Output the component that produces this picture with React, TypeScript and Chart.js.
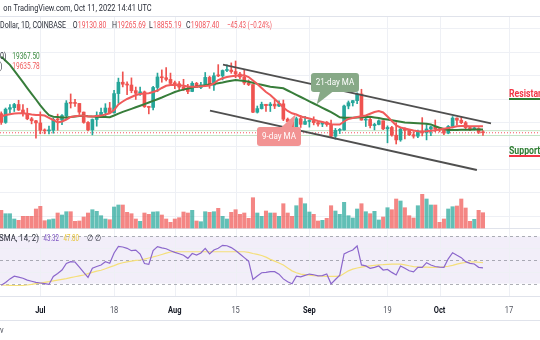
import React, { useEffect, useRef } from "react";
import { Chart, registerables } from "chart.js";
Chart.register(...registerables);

// Days are counted from Jul 1, 2022 (= 0). First candle: Jun 22, 2022.
const FIRST_DAY = -9;

const opens = [
  20720, 19970, 21100, 21230, 21500, 21030, 20730, 20280, 20110,
  19930, 19300, 19250, 19300, 20220, 20180, 20550, 21620, 21600, 21590, 20850, 19970, 19330, 20220, 20580, 20830, 21200, 20790, 22430, 23400, 23230, 23160, 22680, 22460, 22580, 21310, 21250, 22950, 23850, 23780, 23640,
  23300, 23270, 22980, 22820, 22610, 23310, 22950, 23170, 23810, 23150, 23950, 23940, 24400, 24440, 24310, 24100, 23850, 23340, 23200, 20840, 21150, 21520, 21400, 21530, 21370, 21560, 20250, 20040, 19560, 20290, 19810,
  20050, 20130, 19950, 19830, 19990, 19800, 18790, 19290, 19320, 21370, 21650, 21830, 22400, 20170, 20230, 19700, 19800, 20110, 19420, 19540, 18880, 18480, 19400, 19290, 18920, 18800, 19220, 19080, 19410, 19590,
  19420, 19310, 19060, 19630, 20340, 20160, 19950, 19530, 19420, 19450, 19130.8,
];
const highs = [
  20870, 21200, 21500, 21600, 21860, 21500, 21180, 20400, 20140,
  20870, 19420, 19650, 20330, 20680, 20640, 21830, 22400, 21950, 21600, 20860, 20040, 20270, 20870, 21200, 21570, 21680, 22700, 23750, 24280, 23430, 23770, 22990, 22990, 22650, 21350, 23060, 24180, 24450, 24650, 24180,
  23500, 23460, 23650, 23230, 23450, 23390, 23400, 24230, 23920, 24200, 24900, 24450, 24880, 25050, 25210, 24240, 24450, 23590, 23200, 21370, 21700, 21520, 21670, 21900, 21820, 21880, 20350, 20170, 20430, 20570, 20490,
  20200, 20450, 19980, 20000, 20050, 20180, 19460, 19450, 21450, 21800, 21850, 22490, 22800, 20550, 20340, 19900, 20190, 20110, 19680, 19640, 19950, 19490, 19500, 19310, 19180, 19310, 20380, 19790, 19650, 20180,
  19480, 19390, 19710, 20470, 20360, 20440, 20060, 19610, 19550, 19520, 19265.69,
];
const lows = [
  19800, 19890, 20750, 20900, 20980, 20500, 20200, 19850, 18620,
  19000, 19000, 18980, 19050, 19300, 19770, 20250, 21200, 21330, 20650, 19900, 19240, 18910, 19650, 20400, 20480, 20770, 20770, 21600, 23000, 22340, 22500, 21930, 22280, 21250, 20700, 21040, 22590, 23400, 23520, 23230,
  22850, 22660, 22700, 22430, 22590, 22940, 22850, 23150, 22880, 22700, 23870, 23600, 24310, 24160, 23780, 23700, 23200, 23110, 20800, 20770, 21110, 20900, 20900, 21150, 21310, 20120, 19820, 19550, 19550, 19540, 19800,
  19570, 19760, 19650, 19610, 19640, 18680, 18540, 19020, 19300, 21130, 21370, 21560, 20160, 19620, 19500, 19330, 19760, 19360, 18230, 18800, 18130, 18360, 18570, 18850, 18630, 18680, 18820, 18480, 18850, 19170,
  19160, 18920, 19000, 19500, 19750, 19860, 19330, 19260, 19320, 19020, 18855.19,
];
const closes = [
  19970, 21100, 21230, 21500, 21030, 20730, 20280, 20110, 19930,
  19300, 19250, 19300, 20220, 20180, 20550, 21620, 21600, 21590, 20850, 19970, 19330, 20220, 20580, 20830, 21200, 20790, 22430, 23400, 23230, 23160, 22680, 22460, 22580, 21310, 21250, 22950, 23850, 23780, 23640, 23300,
  23270, 22980, 22820, 22610, 23310, 22950, 23170, 23810, 23150, 23950, 23940, 24400, 24440, 24310, 24100, 23850, 23340, 23200, 20840, 21150, 21520, 21400, 21530, 21370, 21560, 20250, 20040, 19560, 20290, 19810, 20050,
  20130, 19950, 19830, 19990, 19800, 18790, 19290, 19320, 21370, 21650, 21830, 22400, 20170, 20230, 19700, 19800, 20110, 19420, 19540, 18880, 18480, 19400, 19290, 18920, 18800, 19220, 19080, 19410, 19590, 19420,
  19310, 19060, 19630, 20340, 20160, 19950, 19530, 19420, 19450, 19132.83, 19087.4,
];
// volume (thousand units)
const volumes = [
  17.7, 14.3, 14.3, 9, 7.7, 11.7, 11.7, 11.7, 19,
  21.7, 7.3, 8.3, 9, 15, 13, 16.3, 16.3, 6.7, 7,
  11, 15, 18.3, 16.7, 12.3, 9, 8.3, 21, 23, 23,
  15.7, 14.3, 9, 6.7, 15, 13.7, 16, 16.3, 13, 9,
  5.7, 9, 10.3, 16, 15, 17.7, 7, 6.3, 16.3, 15.7,
  16.3, 19.7, 11.7, 9, 15.7, 18.3, 13.7, 15, 9.7, 30.3,
  15, 11.7, 17, 15, 15, 11.7, 24.3, 15, 11.7, 22.3,
  30, 24.3, 16, 13.7, 7, 7.7, 9.7, 22.3, 17, 13.7,
  25.7, 12.3, 10, 19, 24.3, 16.3, 14.3, 16.7, 8, 11,
  20.3, 18.3, 29, 27, 20.3, 12.3, 10, 22.3, 33.7, 29,
  23, 23, 5.7, 9, 19, 21.3, 22, 29, 20, 6.7,
  8.7, 17.7, 15.3,
];
// 9-day MA (red)
const ma9 = [
  20476, 20604, 20672, 20732, 20749, 20749, 20706, 20638, 20604,
  20604, 20561, 20365, 20177, 19964, 20049, 20220, 20433, 20501, 20544,
  20536, 20476, 20476, 20519, 20553, 20646, 20749, 21030, 21499, 21755,
  21969, 22139, 22310, 22395, 22438, 22455, 22566, 22694, 22907, 23095,
  23163, 23163, 23146, 23095, 23035, 23018, 23018, 23052, 23069, 23120,
  23291, 23589, 23734, 23845, 23905, 23948, 23973, 23999, 23845, 23547,
  23248, 22907, 22566, 22310, 21969, 21627, 21244, 20945, 20749, 20646,
  20476, 20391, 20305, 20194, 20092, 20007, 19896, 19811, 19793, 19793,
  20049, 20263, 20348, 20433, 20501, 20561, 20706, 20860, 20945, 20817,
  20476, 20092, 19708, 19538, 19452, 19367, 19282, 19222, 19196, 19222,
  19265, 19307, 19367, 19427, 19495, 19555, 19640, 19666, 19666, 19648,
  19640, 19636, 19635.78,
];
// 21-day MA (green)
const ma21 = [
  25585, 25236, 24877, 24391, 23896, 23402, 22898, 22404, 21926,
  21423, 20971, 20587, 20459, 20425, 20382, 20399, 20433, 20476, 20510,
  20544, 20501, 20467, 20450, 20442, 20425, 20408, 20561, 20723, 20868,
  20996, 21124, 21261, 21397, 21534, 21670, 21807, 21952, 22097, 22259,
  22412, 22566, 22685, 22770, 22864, 22950, 23035, 23086, 23137, 23197,
  23248, 23308, 23376, 23453, 23521, 23589, 23547, 23513, 23436, 23351,
  23257, 23180, 23095, 23018, 22975, 22924, 22881, 22694, 22515, 22327,
  22139, 21960, 21772, 21585, 21397, 21209, 21030, 20843, 20638, 20408,
  20374, 20374, 20374, 20391, 20408, 20433, 20459, 20399, 20339, 20271,
  20211, 20152, 20092, 20024, 19964, 19947, 19921, 19896, 19879, 19853,
  19802, 19648, 19521, 19410, 19324, 19324, 19333, 19341, 19350, 19350,
  19358, 19367, 19367.5,
];
const rsi = [
  28.5, 31, 34, 36.3, 35.5, 34.5, 33, 32, 31,
  30.5, 30, 29.3, 36, 38.5, 41.5, 47, 48.6, 48.3, 44,
  39.5, 35.3, 43, 44.5, 45.8, 48.5, 47.2, 56, 61.5, 61,
  59.9, 57.9, 58.4, 55, 47, 46.3, 58, 61.3, 60.3, 59.5,
  57.8, 56.5, 55.3, 54, 51.4, 55.5, 54.2, 56, 59.9, 55.1,
  58.5, 60, 62.4, 62.1, 60.5, 58, 55.1, 52, 49, 33.6,
  36.5, 39.2, 39.5, 40.1, 40.1, 38, 34, 31.5, 29.8, 36.3,
  35.7, 37, 38.1, 37.5, 36.5, 36.8, 38.1, 29.8, 33.5, 37.1,
  55.1, 57, 58.5, 61.9, 45.8, 45, 43, 43.8, 44.9, 41.5,
  42, 39.5, 37.3, 44.9, 43, 40.9, 40, 43.8, 43.8, 47.7,
  45.8, 44.5, 44, 43.8, 51, 56.2, 54, 52, 48.6, 47.2,
  46.6, 43.8, 43.32,
];
const rsiMa = [
  28.8, 28.6, 28.5, 28.4, 28.4, 28.5, 28.8, 29.3, 29.9,
  30.4, 31, 31.6, 32.3, 33, 33.6, 34.2, 35, 35.8, 36.6,
  37.3, 38.5, 39.5, 40.5, 41.3, 42.6, 44, 45.2, 46.7, 47.7,
  48.4, 49, 49.6, 50, 50.8, 51.7, 52.6, 53.6, 54.7, 55.8,
  56.8, 57, 57, 57, 57, 57, 57, 57, 57, 57,
  57, 57, 57, 57, 57, 57, 57, 57, 56.5, 55.5,
  54.8, 53.8, 52.4, 50.5, 49, 47.5, 45.8, 43.2, 40.8, 39.2,
  38.1, 37.6, 37.2, 36.8, 36.5, 36.3, 36.2, 36.2, 36.2, 36.3,
  38.5, 40.8, 42.3, 43.2, 44, 44.6, 45.1, 45.5, 45.8, 46,
  46.3, 46.5, 46.6, 46.5, 45.9, 45.1, 44.4, 44.1, 44, 43.9,
  43.8, 43.8, 43.9, 44.2, 44.7, 45.5, 46.5, 47.3, 47.9, 48.3,
  48.4, 48.1, 47.8,
];

const tickDays = [0, 17, 31, 45, 62, 80, 92, 108];
const tickLabels = ["Jul", "18", "Aug", "15", "Sep", "19", "Oct", "17"];
const tickBold = [true, false, true, false, true, false, true, false];
const priceGrid = [28000, 26000, 24000, 22000, 20000, 18000, 16000, 14000, 12000];
const rsiGrid = [60, 40];
const rsiLevels = [70, 50, 30];
const upperChannel = [{ x: 42.1, y: 24911 }, { x: 103.85, y: 19896 }];
const lowerChannel = [{ x: 39.1, y: 20971 }, { x: 100.6, y: 15912 }];
const ma21Note = { d: 67.9, p: 23376, tipD: 63.7, tipP: 21516, text: "21-day MA" };
const ma9Note = { d: 55, p: 18778, tipD: 58.9, tipP: 20689, text: "9-day MA" };
const resistance = { d: 108, p: 22395, lineP: 21969, text: "Resistance" };
const support = { d: 108, p: 17533, lineP: 17107, text: "Support" };

const days = opens.map((_, i) => FIRST_DAY + i);
const last = opens.length - 1;

const X_MIN = -9.286, X_MAX = 115.14;
const PRICE_MIN = 1411.3, PRICE_MAX = 30413.3;
const VOL_MIN = -112, VOL_MAX = 228;
const RSI_MIN = -17.8, RSI_MAX = 270.34;

const PANE_TOP = 16.5, PRICE_BOTTOM = 228.5, RSI_BOTTOM = 296.5, AXIS_BOTTOM = 320.5;
const FONT = "Roboto, 'Liberation Sans', sans-serif";
const SX = 0.83;
const UP = "#26a69a", DOWN = "#ef5350";
const TXT_RED = "#f0555c", TXT_DARK = "#2a2e39";

function txt(ctx: CanvasRenderingContext2D, s: string, x: number, y: number, font: string, color: string, align = "left", sx = SX) {
  ctx.save();
  ctx.font = font;
  ctx.fillStyle = color;
  ctx.textBaseline = "middle";
  const w = ctx.measureText(s).width * sx;
  let x0 = x;
  if (align === "center") x0 = x - w / 2;
  else if (align === "right") x0 = x - w;
  ctx.translate(x0, y);
  ctx.scale(sx, 1);
  ctx.fillText(s, 0, 0);
  ctx.restore();
  return w;
}
function fitTxt(ctx: CanvasRenderingContext2D, s: string, x: number, y: number, font: string, color: string, width: number) {
  ctx.save();
  ctx.font = font;
  const w = ctx.measureText(s).width;
  ctx.restore();
  return txt(ctx, s, x, y, font, color, "left", width / w);
}

function callout(ctx: CanvasRenderingContext2D, cx: number, cy: number, w: number, h: number, base: number[][], tip: number[], color: string, text: string) {
  ctx.save();
  ctx.fillStyle = color;
  ctx.beginPath();
  (ctx as any).roundRect(cx - w / 2, cy - h / 2, w, h, 3);
  ctx.fill();
  ctx.beginPath();
  ctx.moveTo(base[0][0], base[0][1]);
  ctx.lineTo(tip[0], tip[1]);
  ctx.lineTo(base[1][0], base[1][1]);
  ctx.closePath();
  ctx.fill();
  ctx.restore();
  txt(ctx, text, cx, cy + 0.5, `9.5px ${FONT}`, "#ffffff", "center", 0.85);
}

const overlay = {
  id: "overlay",
  beforeDatasetsDraw(chart: any) {
    const { ctx } = chart;
    const W = chart.width;
    const xs = chart.scales.x, ys = chart.scales.y, yr = chart.scales.yRsi;
    ctx.save();
    const y70 = yr.getPixelForValue(70), y30 = yr.getPixelForValue(30);
    ctx.fillStyle = "rgba(126,87,194,0.1)";
    ctx.fillRect(0, y70, W, y30 - y70);
    ctx.lineWidth = 1;
    ctx.strokeStyle = "#eef0f5";
    const hline = (y: number) => { ctx.beginPath(); ctx.moveTo(0, y); ctx.lineTo(W, y); ctx.stroke(); };
    priceGrid.forEach((p) => {
      const y = Math.round(ys.getPixelForValue(p)) + 0.5;
      if (y > PANE_TOP && y < PRICE_BOTTOM) hline(y);
    });
    rsiGrid.forEach((r) => hline(Math.round(yr.getPixelForValue(r)) + 0.5));
    tickDays.forEach((d) => {
      const x = Math.round(xs.getPixelForValue(d)) + 0.5;
      ctx.beginPath(); ctx.moveTo(x, PANE_TOP); ctx.lineTo(x, RSI_BOTTOM); ctx.stroke();
    });
    ctx.setLineDash([3, 3]);
    ctx.strokeStyle = "rgba(120,123,134,0.6)";
    rsiLevels.forEach((r) => hline(Math.round(yr.getPixelForValue(r)) + 0.5));
    ctx.setLineDash([]);
    ctx.strokeStyle = "#e0e3eb";
    [PANE_TOP, PRICE_BOTTOM, RSI_BOTTOM, AXIS_BOTTOM].forEach(hline);
    ctx.restore();
  },
  afterDatasetsDraw(chart: any) {
    const { ctx } = chart;
    const xs = chart.scales.x, ys = chart.scales.y;
    const px = (d: number) => xs.getPixelForValue(d);
    const py = (p: number) => ys.getPixelForValue(p);

    // callouts
    {
      const cx = px(ma21Note.d), cy = py(ma21Note.p);
      callout(ctx, cx, cy, 48, 19, [[cx - 15, cy + 9], [cx - 2, cy + 9]], [px(ma21Note.tipD), py(ma21Note.tipP)], "#87a987", ma21Note.text);
    }
    {
      const cx = px(ma9Note.d), cy = py(ma9Note.p);
      callout(ctx, cx, cy, 44, 19, [[cx + 2, cy - 9], [cx + 13, cy - 9]], [px(ma9Note.tipD), py(ma9Note.tipP)], "#f29393", ma9Note.text);
    }

    // Resistance / Support
    ctx.save();
    const rx = px(resistance.d);
    txt(ctx, resistance.text, rx, py(resistance.p), `bold 10px ${FONT}`, "#f23645", "left", 0.87);
    ctx.strokeStyle = "#2e7d32"; ctx.lineWidth = 2;
    ctx.beginPath(); ctx.moveTo(rx, py(resistance.lineP)); ctx.lineTo(chart.width, py(resistance.lineP)); ctx.stroke();
    txt(ctx, support.text, rx, py(support.p), `bold 10px ${FONT}`, "#2e7d32", "left", 0.87);
    ctx.strokeStyle = "#f23645";
    ctx.beginPath(); ctx.moveTo(rx, py(support.lineP)); ctx.lineTo(chart.width, py(support.lineP)); ctx.stroke();
    ctx.restore();

    // header
    ctx.save();
    ctx.fillStyle = "#ffffff";
    ctx.fillRect(0, 0, chart.width, PANE_TOP - 0.5);
    ctx.restore();
    const f9 = `9px ${FONT}`;
    fitTxt(ctx, "on TradingView.com, Oct 11, 2022 14:41 UTC", 3.3, 9, f9, TXT_DARK, 148.4);
    const y2 = 25.5;
    fitTxt(ctx, "Dollar, 1D, COINBASE", 0, y2, f9, TXT_DARK, 66);
    const fields: [string, number, number][] = [["O", opens[last], 72.7], ["H", highs[last], 112], ["L", lows[last], 149], ["C", closes[last], 186]];
    fields.forEach(([k, v, x]) => {
      const w = txt(ctx, k, x, y2, f9, TXT_DARK, "left", 0.78);
      fitTxt(ctx, v.toFixed(2), x + w + 0.3, y2, f9, TXT_RED, 28.5);
    });
    const chg = closes[last] - closes[last - 1];
    const pct = (chg / closes[last - 1]) * 100;
    fitTxt(ctx, `\u2212${Math.abs(chg).toFixed(2)} (\u2212${Math.abs(pct).toFixed(2)}%)`, 227, y2, f9, TXT_RED, 45);

    // MA legend
    txt(ctx, "0)", 0, 57, f9, TXT_DARK, "left", 0.78);
    fitTxt(ctx, ma21[last].toFixed(2), 12.3, 57, f9, "#3b8a3f", 27.5);
    txt(ctx, ")", 0, 67, f9, TXT_DARK, "left", 0.78);
    fitTxt(ctx, ma9[last].toFixed(2), 12.3, 67, f9, "#f05a5a", 27.5);

    // RSI legend
    const yl = 238.5;
    fitTxt(ctx, "SMA, 14; 2)", -1, yl, f9, TXT_DARK, 40);
    fitTxt(ctx, rsi[last].toFixed(2), 43.5, yl, f9, "#7e57c2", 15.5);
    fitTxt(ctx, rsiMa[last].toFixed(2), 63.5, yl, f9, "#e8c63c", 15.5);
    txt(ctx, "\u2205", 87, yl, f9, TXT_DARK, "left", 0.78);
    txt(ctx, "\u2205", 95, yl, f9, TXT_DARK, "left", 0.78);

    // time axis labels
    tickDays.forEach((d, i) => {
      txt(ctx, tickLabels[i], px(d), 311, `${tickBold[i] ? "bold " : ""}9px ${FONT}`, tickBold[i] ? "#131722" : "#50535e", "center");
    });
    txt(ctx, "v", 0, 331, f9, "#50535e");
  },
};

export default function App() {
  const ref = useRef<HTMLCanvasElement | null>(null);
  useEffect(() => {
    if (!ref.current) return;
    const candleColor = opens.map((o, i) => (closes[i] >= o ? UP : DOWN));
    const volColor = opens.map((o, i) => (closes[i] >= o ? "rgba(38,166,154,0.72)" : "rgba(239,83,80,0.7)"));
    const xy = (arr: number[]) => arr.map((v, i) => ({ x: days[i], y: v }));
    const flat = (v: number) => [{ x: X_MIN, y: v }, { x: X_MAX, y: v }];
    const lineBase = { type: "line", pointRadius: 0, tension: 0, fill: false, xAxisID: "x" };
    const chart = new Chart(ref.current, {
      type: "bar",
      data: {
        datasets: [
          { ...lineBase, data: upperChannel, borderColor: "#4f4f4f", borderWidth: 1.8, yAxisID: "y", order: 0 },
          { ...lineBase, data: lowerChannel, borderColor: "#4f4f4f", borderWidth: 1.8, yAxisID: "y", order: 0 },
          { ...lineBase, data: xy(ma9), borderColor: "#f05a5a", borderWidth: 2, yAxisID: "y", order: 1 },
          { ...lineBase, data: xy(ma21), borderColor: "#377d3a", borderWidth: 2, yAxisID: "y", order: 2 },
          { type: "bar", data: opens.map((o, i) => ({ x: days[i], y: [o, closes[i]] })), backgroundColor: candleColor, barThickness: 3, minBarLength: 1, grouped: false, xAxisID: "x", yAxisID: "y", order: 3 },
          { type: "bar", data: lows.map((l, i) => ({ x: days[i], y: [l, highs[i]] })), backgroundColor: candleColor, barThickness: 1, grouped: false, xAxisID: "x", yAxisID: "y", order: 4 },
          { ...lineBase, data: flat(highs[last]), borderColor: "#c4e3c5", borderWidth: 1, yAxisID: "y", order: 5 },
          { ...lineBase, data: flat(lows[last]), borderColor: "#c4e3c5", borderWidth: 1, yAxisID: "y", order: 5 },
          { ...lineBase, data: flat(closes[last]), borderColor: "#f7525f", borderWidth: 1, borderDash: [1, 2], yAxisID: "y", order: 5 },
          { type: "bar", data: xy(volumes), backgroundColor: volColor, barThickness: 3.4, grouped: false, xAxisID: "x", yAxisID: "yVol", order: 6 },
          { ...lineBase, data: xy(rsi), borderColor: "#8c67cc", borderWidth: 1.2, yAxisID: "yRsi", order: 1 },
          { ...lineBase, data: xy(rsiMa), borderColor: "#f5df7a", borderWidth: 1.2, yAxisID: "yRsi", order: 2 },
        ] as any,
      },
      options: {
        animation: false,
        responsive: false,
        maintainAspectRatio: false,
        devicePixelRatio: 1,
        events: [],
        layout: { padding: 0 },
        plugins: { legend: { display: false }, tooltip: { enabled: false } },
        scales: {
          x: { type: "linear", min: X_MIN, max: X_MAX, offset: false, display: false },
          y: { type: "linear", min: PRICE_MIN, max: PRICE_MAX, display: false },
          yVol: { type: "linear", min: VOL_MIN, max: VOL_MAX, display: false },
          yRsi: { type: "linear", min: RSI_MIN, max: RSI_MAX, display: false },
        },
      } as any,
      plugins: [overlay],
    });
    return () => chart.destroy();
  }, []);
  return (
    <div style={{ position: "absolute", left: 0, top: 0, width: 540, height: 340, background: "#ffffff" }}>
      <canvas ref={ref} width={540} height={340} style={{ display: "block", width: 540, height: 340 }} />
    </div>
  );
}
